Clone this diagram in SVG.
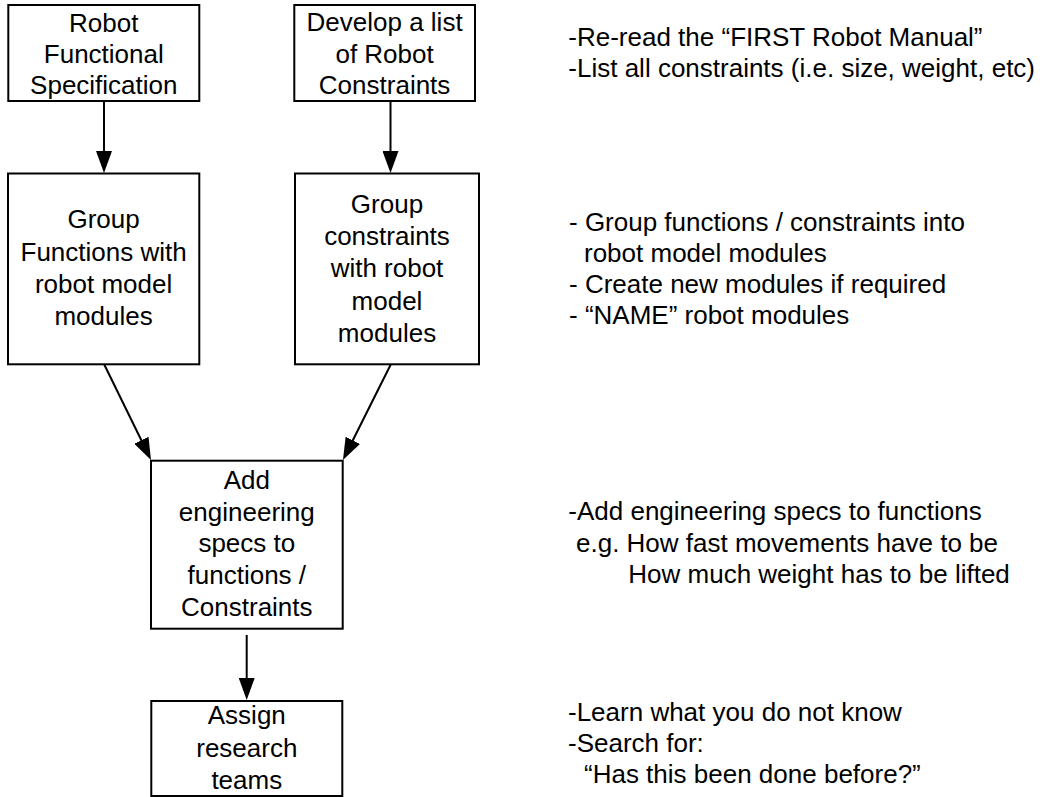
<svg xmlns="http://www.w3.org/2000/svg" width="1047" height="797" viewBox="0 0 1047 797">
  <style>
    .box { fill: #ffffff; stroke: #000000; stroke-width: 2; }
    .lbl { font-family: "Liberation Sans", Arial, sans-serif; font-size: 26px; fill: #000000; text-anchor: middle; }
    .note { font-family: "Liberation Sans", Arial, sans-serif; font-size: 26px; fill: #000000; }
    .edge { fill: none; stroke: #000000; stroke-width: 2; }
  </style>
  <defs>
    <marker id="arrow" viewBox="0 0 22 16" refX="17" refY="8" markerWidth="22" markerHeight="16" markerUnits="userSpaceOnUse" orient="auto">
      <path d="M0,0 L22,8 L0,16 Z" fill="#000000"/>
    </marker>
  </defs>
  <rect width="1047" height="797" fill="#ffffff"/>

  <!-- connectors -->
  <g id="connectors">
    <line class="edge" x1="104" y1="101" x2="104" y2="168" marker-end="url(#arrow)"/>
    <line class="edge" x1="390.5" y1="101" x2="390.5" y2="168" marker-end="url(#arrow)"/>
    <line class="edge" x1="104" y1="364" x2="148.8" y2="455.5" marker-end="url(#arrow)"/>
    <line class="edge" x1="391" y1="364" x2="345.2" y2="455.5" marker-end="url(#arrow)"/>
    <line class="edge" x1="246.7" y1="635" x2="246.7" y2="695" marker-end="url(#arrow)"/>
  </g>

  <!-- process boxes -->
  <g id="node-spec">
    <rect class="box" x="8.3" y="5" width="191" height="96"/>
    <text class="lbl" x="103.8" y="31.7">Robot</text>
    <text class="lbl" x="103.8" y="63">Functional</text>
    <text class="lbl" x="103.8" y="94">Specification</text>
  </g>
  <g id="node-constraints">
    <rect class="box" x="294.3" y="5" width="180.7" height="96"/>
    <text class="lbl" x="384.6" y="31.2">Develop a list</text>
    <text class="lbl" x="384.6" y="63">of Robot</text>
    <text class="lbl" x="384.6" y="94">Constraints</text>
  </g>
  <g id="node-group-functions">
    <rect class="box" x="8" y="173.5" width="191.3" height="190.8"/>
    <text class="lbl" x="103.6" y="228.3">Group</text>
    <text class="lbl" x="103.6" y="260.6">Functions with</text>
    <text class="lbl" x="103.6" y="292.9">robot model</text>
    <text class="lbl" x="103.6" y="325.2">modules</text>
  </g>
  <g id="node-group-constraints">
    <rect class="box" x="295" y="173.5" width="184" height="190.8"/>
    <text class="lbl" x="387" y="213.3">Group</text>
    <text class="lbl" x="387" y="245.3">constraints</text>
    <text class="lbl" x="387" y="277.3">with robot</text>
    <text class="lbl" x="387" y="309.5">model</text>
    <text class="lbl" x="387" y="341.5">modules</text>
  </g>
  <g id="node-engineering">
    <rect class="box" x="151" y="460.7" width="191.7" height="168"/>
    <text class="lbl" x="246.8" y="489">Add</text>
    <text class="lbl" x="246.8" y="520.5">engineering</text>
    <text class="lbl" x="246.8" y="552">specs to</text>
    <text class="lbl" x="246.8" y="583.5">functions /</text>
    <text class="lbl" x="246.8" y="615.5">Constraints</text>
  </g>
  <g id="node-research">
    <rect class="box" x="151.3" y="701" width="191" height="95"/>
    <text class="lbl" x="246.8" y="724">Assign</text>
    <text class="lbl" x="246.8" y="756.5">research</text>
    <text class="lbl" x="246.8" y="788.5">teams</text>
  </g>

  <!-- side notes -->
  <g id="note-manual">
    <text class="note" x="568.3" y="46">-Re-read the “FIRST Robot Manual”</text>
    <text class="note" x="568.3" y="77.3">-List all constraints (i.e. size, weight, etc)</text>
  </g>
  <g id="note-modules">
    <text class="note" x="569" y="230.7">- Group functions / constraints into</text>
    <text class="note" x="584" y="261.7">robot model modules</text>
    <text class="note" x="569" y="292.7">- Create new modules if required</text>
    <text class="note" x="569" y="323.5">- “NAME” robot modules</text>
  </g>
  <g id="note-specs">
    <text class="note" x="568.3" y="520">-Add engineering specs to functions</text>
    <text class="note" x="576" y="551.5">e.g. How fast movements have to be</text>
    <text class="note" x="628.3" y="583.3">How much weight has to be lifted</text>
  </g>
  <g id="note-research">
    <text class="note" x="568" y="721">-Learn what you do not know</text>
    <text class="note" x="568" y="752.3">-Search for:</text>
    <text class="note" x="584" y="783.3">“Has this been done before?”</text>
  </g>
</svg>
